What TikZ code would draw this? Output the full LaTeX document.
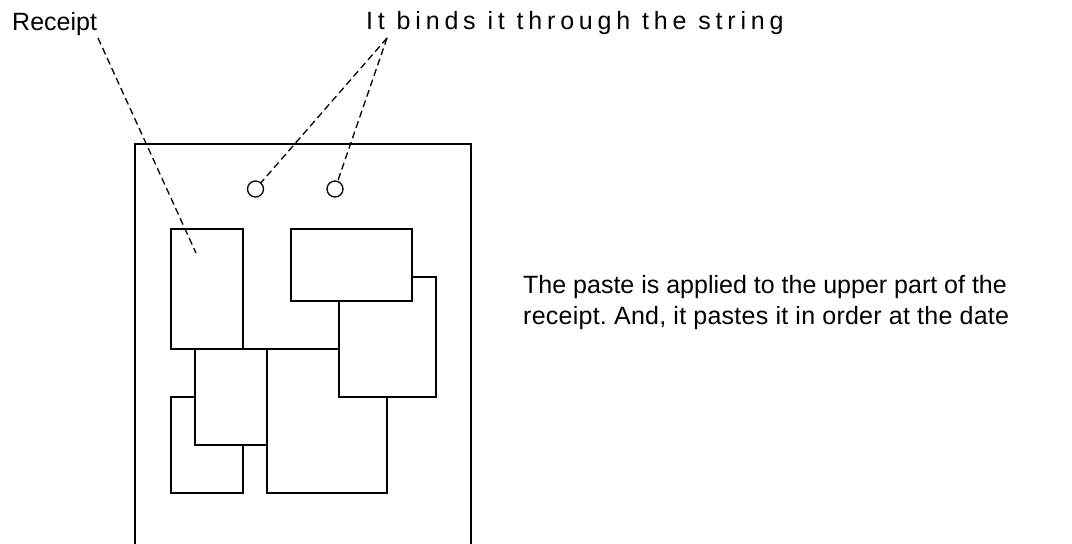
\documentclass[tikz,border=0pt]{standalone}
\usepackage{fontspec}
\setmainfont{Liberation Sans}
\begin{document}
\frenchspacing
\begin{tikzpicture}[x=1pt,y=-1pt,
  sheet/.style={draw,fill=white,line width=1.4pt,inner sep=0pt},
  hole/.style={draw,circle,line width=1.3pt,minimum size=16pt,inner sep=0pt},
  leader/.style={line width=1.3pt,dash pattern=on 7pt off 4pt},
  lbl/.style={inner sep=0pt,anchor=base west,font=\fontsize{25}{30}\selectfont}]
\useasboundingbox (0,0) rectangle (1072,544);

% board, open at the bottom
\draw[line width=2pt] (135,545) -- (135,144) -- (471,144) -- (471,545);

% receipts pasted on the board, back to front
\node[sheet,minimum width=120pt,minimum height=144pt] (D) at (327,421) {};
\node[sheet,minimum width=97pt,minimum height=120pt] (C) at (387.5,337) {};
\node[sheet,minimum width=121pt,minimum height=72pt] (B) at (351.5,265) {};
\node[sheet,minimum width=72pt,minimum height=96pt] (F) at (207,445) {};
\node[sheet,minimum width=72pt,minimum height=96pt] (E) at (231,397) {};
\node[sheet,minimum width=72pt,minimum height=120pt] (A) at (207,289) {};

% string holes
\node[hole] (h1) at (255.5,189) {};
\node[hole] (h2) at (335,189) {};

% labels
\node[lbl] (receipt) at (12,30) {Receipt};
\node[lbl] (string) at (366,29) {\addfontfeatures{LetterSpace=19.3}It binds it through the string};
\node[lbl] (note1) at (523,293) {The paste is applied to the upper part of the};
\node[lbl] (note2) at (523,324) {\addfontfeatures{LetterSpace=1}receipt. And, it pastes it in order at the date};

% leader lines
\coordinate (rc) at (98,38);
\coordinate (rcend) at (196,253);
\coordinate (st) at (387,38);
\draw[leader] (rc) -- (rcend);
\draw[leader] (st) -- (h1);
\draw[leader] (st) -- (h2);
\end{tikzpicture}
\end{document}
